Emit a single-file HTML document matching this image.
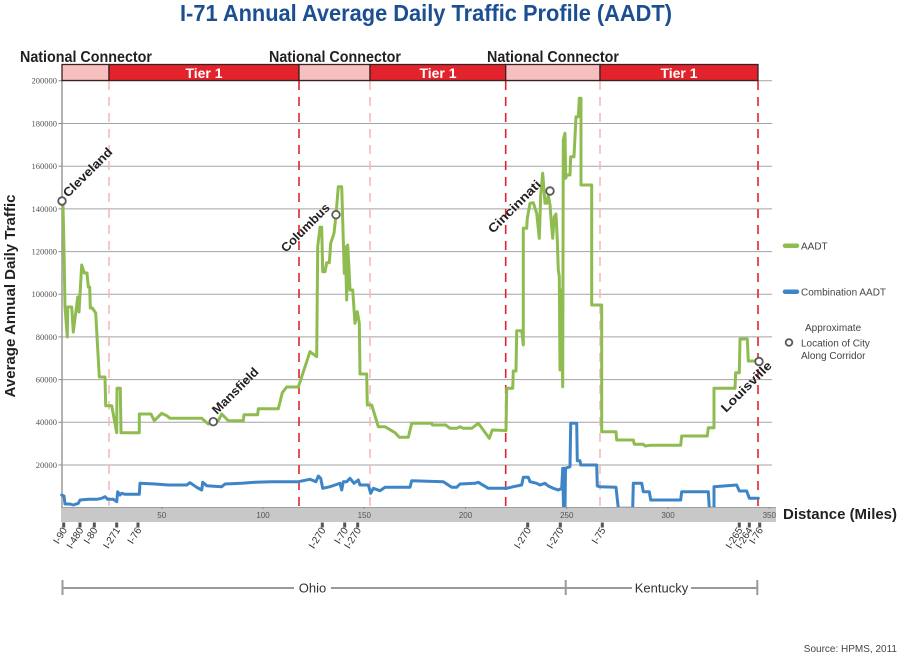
<!DOCTYPE html>
<html>
<head>
<meta charset="utf-8">
<style>
html,body{margin:0;padding:0;background:#fff;}
body{width:900px;height:656px;overflow:hidden;}
svg{display:block;}
text{font-family:"Liberation Sans",sans-serif;}
</style>
</head>
<body>
<svg width="900" height="656" viewBox="0 0 900 656" xmlns="http://www.w3.org/2000/svg">
<!-- Title -->
<text x="180" y="21" font-size="23" font-weight="bold" fill="#1b4f91" textLength="492" lengthAdjust="spacingAndGlyphs">I-71 Annual Average Daily Traffic Profile (AADT)</text>

<!-- National Connector labels -->
<g font-size="16" font-weight="bold" fill="#231f20">
<text x="20" y="62" textLength="132" lengthAdjust="spacingAndGlyphs">National Connector</text>
<text x="269" y="62" textLength="132" lengthAdjust="spacingAndGlyphs">National Connector</text>
<text x="487" y="62" textLength="132" lengthAdjust="spacingAndGlyphs">National Connector</text>
</g>

<!-- Gridlines -->
<g stroke="#a3a3a3" stroke-width="1">
<line x1="62" y1="80.8" x2="772" y2="80.8"/>
<line x1="62" y1="123.5" x2="772" y2="123.5"/>
<line x1="62" y1="166.2" x2="772" y2="166.2"/>
<line x1="62" y1="208.9" x2="772" y2="208.9"/>
<line x1="62" y1="251.6" x2="772" y2="251.6"/>
<line x1="62" y1="294.3" x2="772" y2="294.3"/>
<line x1="62" y1="336.9" x2="772" y2="336.9"/>
<line x1="62" y1="379.6" x2="772" y2="379.6"/>
<line x1="62" y1="422.3" x2="772" y2="422.3"/>
<line x1="62" y1="465" x2="772" y2="465"/>
</g>
<!-- tick marks on y axis -->
<g stroke="#888" stroke-width="1">
<line x1="58.5" y1="80.8" x2="62" y2="80.8"/>
<line x1="58.5" y1="123.5" x2="62" y2="123.5"/>
<line x1="58.5" y1="166.2" x2="62" y2="166.2"/>
<line x1="58.5" y1="208.9" x2="62" y2="208.9"/>
<line x1="58.5" y1="251.6" x2="62" y2="251.6"/>
<line x1="58.5" y1="294.3" x2="62" y2="294.3"/>
<line x1="58.5" y1="336.9" x2="62" y2="336.9"/>
<line x1="58.5" y1="379.6" x2="62" y2="379.6"/>
<line x1="58.5" y1="422.3" x2="62" y2="422.3"/>
<line x1="58.5" y1="465" x2="62" y2="465"/>
</g>
<!-- Y axis line -->
<line x1="62" y1="80" x2="62" y2="508" stroke="#9a9a9a" stroke-width="1.5"/>

<!-- Y tick labels -->
<g font-family="Liberation Serif, serif" font-size="8.5" fill="#555" text-anchor="end">
<text x="57" y="83.5" style="font-family:'Liberation Serif',serif">200000</text>
<text x="57" y="126.5" style="font-family:'Liberation Serif',serif">180000</text>
<text x="57" y="169" style="font-family:'Liberation Serif',serif">160000</text>
<text x="57" y="212" style="font-family:'Liberation Serif',serif">140000</text>
<text x="57" y="254.5" style="font-family:'Liberation Serif',serif">120000</text>
<text x="57" y="297" style="font-family:'Liberation Serif',serif">100000</text>
<text x="57" y="340" style="font-family:'Liberation Serif',serif">80000</text>
<text x="57" y="382.5" style="font-family:'Liberation Serif',serif">60000</text>
<text x="57" y="425" style="font-family:'Liberation Serif',serif">40000</text>
<text x="57" y="468" style="font-family:'Liberation Serif',serif">20000</text>
</g>

<!-- Y axis title -->
<text transform="translate(15,296) rotate(-90)" text-anchor="middle" font-size="15" font-weight="bold" fill="#231f20" textLength="203" lengthAdjust="spacingAndGlyphs">Average Annual Daily Traffic</text>

<!-- Dashed vertical lines -->
<g stroke-width="1.6" stroke-dasharray="9,7" fill="none">
<line x1="109" y1="81" x2="109" y2="507" stroke="#f6b9bb"/>
<line x1="370" y1="81" x2="370" y2="507" stroke="#f6b9bb"/>
<line x1="600" y1="81" x2="600" y2="507" stroke="#f6b9bb"/>
<line x1="299" y1="81" x2="299" y2="507" stroke="#e3232b"/>
<line x1="505.7" y1="81" x2="505.7" y2="507" stroke="#e3232b"/>
<line x1="758" y1="81" x2="758" y2="507" stroke="#e3232b"/>
</g>

<!-- Header bars -->
<g stroke="#3a2020" stroke-width="1.3">
<rect x="62" y="64.5" width="47" height="16" fill="#f8bfc1"/>
<rect x="109" y="64.5" width="190" height="16" fill="#e3232b"/>
<rect x="299" y="64.5" width="71" height="16" fill="#f8bfc1"/>
<rect x="370" y="64.5" width="135.7" height="16" fill="#e3232b"/>
<rect x="505.7" y="64.5" width="94.3" height="16" fill="#f8bfc1"/>
<rect x="600" y="64.5" width="158" height="16" fill="#e3232b"/>
</g>
<g font-size="14" font-weight="bold" fill="#fff" text-anchor="middle">
<text x="204" y="78">Tier 1</text>
<text x="438" y="78">Tier 1</text>
<text x="679" y="78">Tier 1</text>
</g>

<!-- AADT green series -->
<polyline fill="none" stroke="#8fbc50" stroke-width="3" stroke-linejoin="round" stroke-linecap="round" points="63,205 64,250 65,307 67.3,337 67.7,307 71.7,307 73.3,332 77.7,297 79,312 81.7,265 84.3,273 87,273 88.3,287 89.7,287 90.3,308 92.3,308 95.7,313 99.3,377 105,377 105.7,405.7 111.7,405.7 116.7,432.7 117,388.3 120.3,388.3 121,432.7 139.3,432.7 139.3,414 151,414 154.3,420.7 161.7,413.3 166.7,415.7 170,418.3 201.7,418.3 208.3,424 213,422 218.3,420.7 221.7,414 228.3,420.7 243.3,420.7 244,414.7 257.7,414.7 258.3,408.7 278.3,408.7 282.3,392.7 286.7,387 298.3,387 310,351.7 316.7,356.7 317.7,246.7 320,227.3 321.7,227.3 322.7,271.7 325,271.7 326.7,262.7 329.3,262.7 330.7,243.3 334,233.3 336,215 338.3,186.7 341.7,186.7 343.3,240 344.3,273.3 345.3,246.7 346.7,300 347.7,245 349,268.3 350,290 352.7,290 355,323.3 357.3,311.7 359.3,323.3 360,374 366.7,374 367.3,405 371.7,405 378.3,426.7 385,426.7 395,432.7 399.3,437.3 408.3,437.3 411.7,423.3 431.7,423.3 432.3,425 445.7,425 450,428.3 456.7,428.3 460,426.7 463.3,428.3 471.7,428.3 478.3,423.3 489.3,438.3 492.3,430 506,430.5 506.7,388.3 512.7,388.3 513.3,371 516,371 516.7,330.7 521.7,330.7 523.3,345 523.3,228.3 526.7,228.3 527.3,218.3 530,203.3 533.3,202.7 536.7,213.3 539.3,238.3 540.7,195 542.7,173.3 544,190 545,203.3 546.7,203.3 548.3,195 550,205 551.7,226.7 552.7,238.3 554.3,216.7 556,214 557.3,240 558.3,270 559.3,276.7 560,370 561,290 562.7,386.7 563.3,140 565,133.3 565.7,178.3 566.7,175 570,175 570.7,156.7 574,156.7 576,116.7 578.3,116.7 579.3,98.3 581,98.3 581,185 591.7,185 591.7,305 601.7,305 601.7,431.7 616,431.7 616.7,440 633.3,440 634.3,444.3 643.3,444.3 645,446 650,445.3 680.7,445.3 681.7,436 707.3,436 708.3,427.7 714,427.7 714,388.3 735,388.3 735.7,372.7 739.3,372.7 740,339 747.3,339 748.3,361 755,361"/>

<!-- Combination AADT blue series -->
<polyline fill="none" stroke="#3d85c6" stroke-width="3" stroke-linejoin="round" stroke-linecap="round" points="61.7,495 64,496 65,504 70,504 73.3,505 78.3,503.3 80,500 88.3,499.3 96.7,499.3 101.7,498.3 105,496.7 107.7,499.3 113.3,499.3 116.7,501.7 117.7,491.7 120,495 121.7,493.3 125,494.3 139.3,494.3 140,483.3 155,484 168.3,485 186.7,485 190,482.7 196.7,487.3 201.7,490 202.7,482.3 206.7,485.7 221.7,486.7 225,484 241.7,483.3 255,482.3 271.7,481.7 298.3,481.7 310,479.3 316,481.7 318.3,476 320.7,478.3 322.7,488.3 330,486.7 335,485 340,483.3 341.7,490 343.3,481.7 346.7,481.7 350,478.3 354,483.3 358.3,480 360,485 368.3,485 370.7,493.3 373.3,488.3 380,490.7 385,487.3 410,487.3 411.7,480.7 443.3,481.7 451.7,487.3 456.7,487.3 460,484 475,483.3 478.3,482.3 488.3,488.3 506.7,488.3 513.3,486.7 521.7,485 523.3,477.3 528.3,477.3 530,481.7 536.7,483.3 540,485 545,483.3 548.3,486 553.3,488.3 558.3,490 561.7,488.3 562.7,468.3 563.5,508 564.3,468.3 565,508 565.5,468.3 570,466.7 570.7,423.3 576.7,423.3 577.3,460.7 580,460.7 580.7,465 596.7,465 597.3,486 600,486.7 616,487.3 618.3,508.3 632.7,508.3 633.3,483.3 641.7,483.3 643.3,491.7 649.3,491.7 650.7,500 680.7,500 681.7,491.7 708.3,491.7 709.3,508.3 714,508.3 714,486.7 736.7,485 739.3,491 746.7,491 749.3,498.3 758.3,498.3"/>

<!-- X axis band -->
<rect x="61" y="507" width="715" height="15" fill="#c8c8c8"/>
<line x1="61" y1="507.5" x2="776" y2="507.5" stroke="#a0a0a0" stroke-width="1"/>
<g stroke="#8a8a8a" stroke-width="1">
<line x1="161.75" y1="507" x2="161.75" y2="509"/>
<line x1="263" y1="507" x2="263" y2="509"/>
<line x1="364.25" y1="507" x2="364.25" y2="509"/>
<line x1="465.5" y1="507" x2="465.5" y2="509"/>
<line x1="566.75" y1="507" x2="566.75" y2="509"/>
<line x1="668" y1="507" x2="668" y2="509"/>
<line x1="769.25" y1="507" x2="769.25" y2="509"/>
</g>
<g font-size="8" fill="#555" text-anchor="middle">
<text x="161.75" y="518">50</text>
<text x="263" y="518">100</text>
<text x="364.25" y="518">150</text>
<text x="465.5" y="518">200</text>
<text x="566.75" y="518">250</text>
<text x="668" y="518">300</text>
<text x="769.25" y="518">350</text>
</g>
<text x="783" y="519" font-size="15" font-weight="bold" fill="#231f20" textLength="114" lengthAdjust="spacingAndGlyphs">Distance (Miles)</text>

<!-- Interchange ticks -->
<g fill="#555">
<rect x="62.2" y="522.5" width="3" height="5"/>
<rect x="78.5" y="522.5" width="3" height="5"/>
<rect x="92.8" y="522.5" width="3" height="5"/>
<rect x="115.2" y="522.5" width="3" height="5"/>
<rect x="136.5" y="522.5" width="3" height="5"/>
<rect x="320.8" y="522.5" width="3" height="5"/>
<rect x="343.2" y="522.5" width="3" height="5"/>
<rect x="356.2" y="522.5" width="3" height="5"/>
<rect x="526.2" y="522.5" width="3" height="5"/>
<rect x="558.8" y="522.5" width="3" height="5"/>
<rect x="600.8" y="522.5" width="3" height="5"/>
<rect x="737.8" y="522.5" width="3" height="5"/>
<rect x="747.8" y="522.5" width="3" height="5"/>
<rect x="758.2" y="522.5" width="3" height="5"/>
</g>
<g font-size="10" fill="#333" text-anchor="end">
<text transform="translate(67.5,530) rotate(-58)">I-90</text>
<text transform="translate(83.8,530) rotate(-58)">I-480</text>
<text transform="translate(98,530) rotate(-58)">I-80</text>
<text transform="translate(120.5,530) rotate(-58)">I-271</text>
<text transform="translate(141.8,530) rotate(-58)">I-76</text>
<text transform="translate(326,530) rotate(-58)">I-270</text>
<text transform="translate(348.5,530) rotate(-58)">I-70</text>
<text transform="translate(361.5,530) rotate(-58)">I-270</text>
<text transform="translate(531.5,530) rotate(-58)">I-270</text>
<text transform="translate(564,530) rotate(-58)">I-270</text>
<text transform="translate(606,530) rotate(-58)">I-75</text>
<text transform="translate(743,530) rotate(-58)">I-265</text>
<text transform="translate(753,530) rotate(-58)">I-264</text>
<text transform="translate(763.5,530) rotate(-58)">I-76</text>
</g>

<!-- State brackets -->
<g stroke="#9a9a9a" stroke-width="2">
<line x1="62" y1="588" x2="294" y2="588"/>
<line x1="331" y1="588" x2="632" y2="588"/>
<line x1="691" y1="588" x2="757.3" y2="588"/>
<line x1="62.5" y1="580" x2="62.5" y2="595"/>
<line x1="565.7" y1="580" x2="565.7" y2="595"/>
<line x1="757.3" y1="580" x2="757.3" y2="595"/>
</g>
<g font-size="13" fill="#333" text-anchor="middle">
<text x="312.5" y="592.5">Ohio</text>
<text x="661.5" y="592.5">Kentucky</text>
</g>

<!-- City labels -->
<g font-size="12.5" font-weight="bold" fill="#231f20">
<text transform="translate(68,198) rotate(-45)" textLength="64" lengthAdjust="spacingAndGlyphs">Cleveland</text>
<text transform="translate(217,415) rotate(-45)" textLength="60" lengthAdjust="spacingAndGlyphs">Mansfield</text>
<text transform="translate(286,253) rotate(-45)" textLength="63" lengthAdjust="spacingAndGlyphs">Columbus</text>
<text transform="translate(493,234) rotate(-45)" textLength="69" lengthAdjust="spacingAndGlyphs">Cincinnati</text>
<text transform="translate(726,413) rotate(-45)" textLength="66" lengthAdjust="spacingAndGlyphs">Louisville</text>
</g>
<g fill="#fff" stroke="#5a5a5a" stroke-width="1.8">
<circle cx="62" cy="201" r="3.8"/>
<circle cx="213.3" cy="421.7" r="3.8"/>
<circle cx="336" cy="214.7" r="3.8"/>
<circle cx="550" cy="191" r="3.8"/>
<circle cx="759" cy="361.5" r="3.8"/>
</g>

<!-- Legend -->
<line x1="785" y1="245.7" x2="797" y2="245.7" stroke="#8fbc50" stroke-width="4.5" stroke-linecap="round"/>
<line x1="785" y1="291.7" x2="797" y2="291.7" stroke="#3d85c6" stroke-width="4.5" stroke-linecap="round"/>
<circle cx="789" cy="342.5" r="3.3" fill="#fff" stroke="#5a5a5a" stroke-width="1.8"/>
<g font-size="10" fill="#444">
<text x="801" y="249.5">AADT</text>
<text x="801" y="295.5">Combination AADT</text>
<text x="805" y="331">Approximate</text>
<text x="801" y="346.5">Location of City</text>
<text x="801" y="359">Along Corridor</text>
</g>

<!-- Source -->
<text x="897" y="652" font-size="10" fill="#444" text-anchor="end">Source: HPMS, 2011</text>
</svg>
</body>
</html>
